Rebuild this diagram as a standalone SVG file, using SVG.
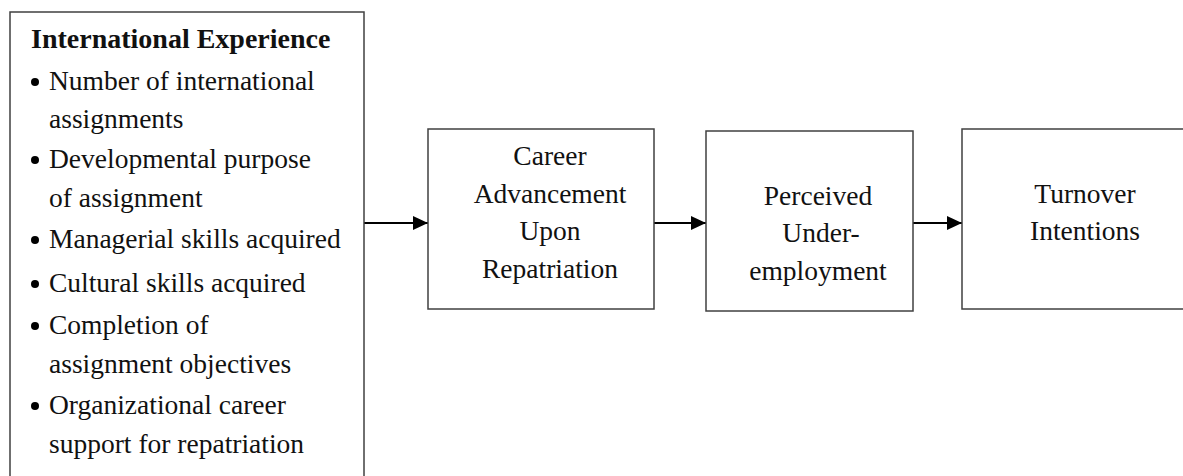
<svg xmlns="http://www.w3.org/2000/svg" width="1183" height="476" viewBox="0 0 1183 476">
<style>
.box{fill:#fff;stroke:#404040;stroke-width:1.5}
.t{font-family:"Liberation Serif","Times New Roman",serif;font-size:27.5px;fill:#111}
.c{text-anchor:middle}
.b{font-weight:bold;font-size:28px}
.conn{stroke:#000;stroke-width:2;fill:none}
</style>
<defs>
<marker id="ah" markerWidth="16" markerHeight="14" refX="15" refY="7" orient="auto" markerUnits="userSpaceOnUse">
<path d="M0,0 L15,7 L0,14 Z" fill="#000"/>
</marker>
</defs>
<rect width="1183" height="476" fill="#fff"/>
<g id="connectors">
<line class="conn" x1="364" y1="223" x2="428" y2="223" marker-end="url(#ah)"/>
<line class="conn" x1="654" y1="223" x2="706" y2="223" marker-end="url(#ah)"/>
<line class="conn" x1="913" y1="223" x2="962" y2="223" marker-end="url(#ah)"/>
</g>
<g id="international-experience">
<rect class="box" x="10" y="12" width="354" height="470"/>
<text class="t b" x="31" y="48">International Experience</text>
<g fill="#000">
<circle cx="35" cy="82" r="4"/>
<circle cx="35" cy="160" r="4"/>
<circle cx="35" cy="240" r="4"/>
<circle cx="35" cy="284" r="4"/>
<circle cx="35" cy="326" r="4"/>
<circle cx="35" cy="406" r="4"/>
</g>
<text class="t" x="49" y="90">Number of international</text>
<text class="t" x="49" y="128">assignments</text>
<text class="t" x="49" y="168">Developmental purpose</text>
<text class="t" x="49" y="207">of assignment</text>
<text class="t" x="49" y="248">Managerial skills acquired</text>
<text class="t" x="49" y="292">Cultural skills acquired</text>
<text class="t" x="49" y="334">Completion of</text>
<text class="t" x="49" y="373">assignment objectives</text>
<text class="t" x="49" y="414">Organizational career</text>
<text class="t" x="49" y="453">support for repatriation</text>
</g>
<g id="career-advancement">
<rect class="box" x="428" y="129" width="226" height="180"/>
<text class="t c" x="550" y="165">Career</text>
<text class="t c" x="550" y="203">Advancement</text>
<text class="t c" x="550" y="240">Upon</text>
<text class="t c" x="550" y="278">Repatriation</text>
</g>
<g id="underemployment">
<rect class="box" x="706" y="131" width="207" height="180"/>
<text class="t c" x="818" y="205">Perceived</text>
<text class="t c" x="821" y="242">Under-</text>
<text class="t c" x="818" y="280">employment</text>
</g>
<g id="turnover-intentions">
<rect class="box" x="962" y="129" width="240" height="180"/>
<text class="t c" x="1085" y="203">Turnover</text>
<text class="t c" x="1085" y="240">Intentions</text>
</g>
</svg>
